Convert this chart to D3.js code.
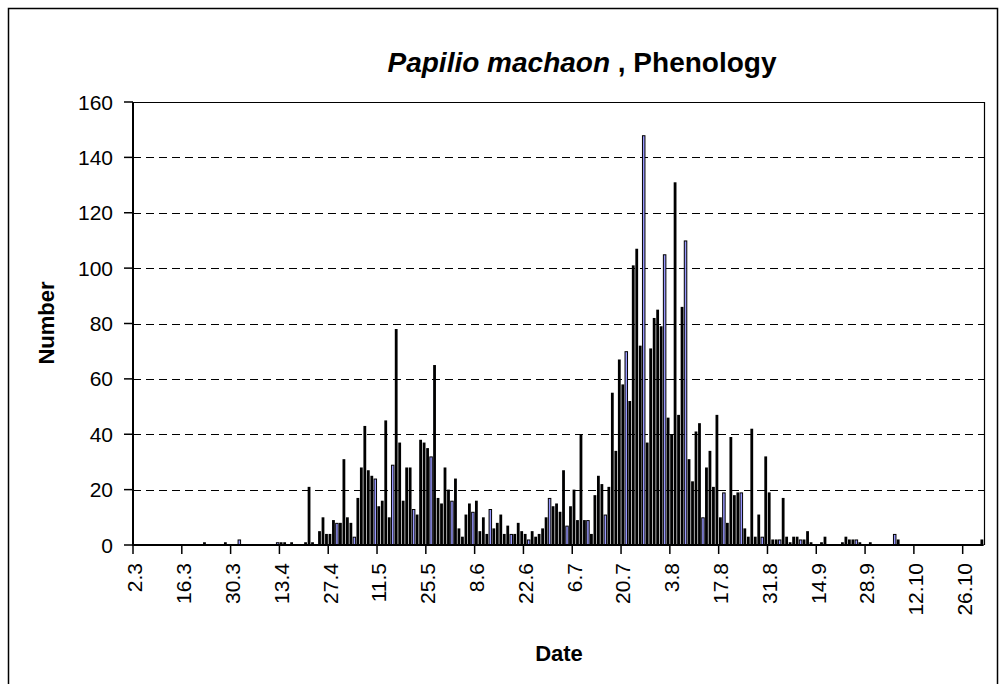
<!DOCTYPE html>
<html>
<head>
<meta charset="utf-8">
<script src="https://cdn.jsdelivr.net/npm/d3@7"></script>
<style>
  html, body { margin: 0; padding: 0; background: #fff; }
  svg { display: block; font-family: Arial, "Liberation Sans", sans-serif; }
</style>
</head>
<body>
<svg id="chart" width="1005" height="684"></svg>
<script>
// ---- data (daily counts, starting 2 March) ----
const tickLabels = ["2.3","16.3","30.3","13.4","27.4","11.5","25.5","8.6","22.6","6.7",
                    "20.7","3.8","17.8","31.8","14.9","28.9","12.10","26.10"];
const tickEvery = 14;
const yTicks = [0,20,40,60,80,100,120,140,160];
const counts = [
  0,0,0,0,0,0,0,0,0,0,0,0,0,0,
  0,0,0,0,0,0,1,0,0,0,0,0,1,0,
  0,0,2,0,0,0,0,0,0,0,0,0,0,1,
  1,1,0,1,0,0,0,1,21,1,0,5,10,4,
  4,9,8,8,31,10,8,3,17,28,43,27,25,24,
  14,16,45,10,29,78,37,16,28,28,13,11,38,37,
  35,32,65,17,15,28,20,16,24,6,3,11,15,12,
  16,5,10,4,13,6,8,11,4,7,4,4,8,5,
  4,2,5,3,4,6,10,17,14,15,12,27,7,14,
  20,9,40,9,9,4,18,25,22,11,21,55,34,67,
  58,70,52,101,107,72,148,37,71,82,85,79,105,46,
  40,131,47,86,110,31,23,41,44,10,28,34,21,47,
  10,19,8,39,18,19,19,6,3,42,3,11,3,32,
  19,2,2,2,17,3,1,3,3,2,2,5,1,0,
  0,1,3,0,0,0,0,1,3,2,2,2,1,0,
  0,1,0,0,0,0,0,0,4,2,0,0,0,0,
  0,0,0,0,0,0,0,0,0,0,0,0,0,0,
  0,0,0,0,0,2
];
const title1 = "Papilio machaon";
const title2 = " , Phenology";
const xTitle = "Date";
const yTitle = "Number";

// ---- layout ----
const svg = d3.select("#chart");
const L = 133, R = 983.6, T = 102, B = 545;

const x = d3.scaleBand().domain(d3.range(counts.length)).range([L, R]).padding(0);
const y = d3.scaleLinear().domain([0, 160]).range([B, T]);
const bw = x.bandwidth();

// emulate the coarse raster of the original: bars that straddle an extra
// device pixel show their lavender fill, the rest render as solid black
const devPerCat = 2.18045, devOffset = -0.015;
function showsFill(i) {
  const l = i * devPerCat + devOffset;
  return Math.round(l + devPerCat) - Math.round(l) >= 3;
}

// outer border
svg.append("rect").attr("x", 8.5).attr("y", 8.5).attr("width", 989).attr("height", 690)
  .attr("fill", "none").attr("stroke", "#000").attr("stroke-width", 1.5);

// gridlines
svg.append("g").selectAll("line").data(yTicks.filter(d => d > 0 && d < 160)).join("line")
  .attr("x1", L).attr("x2", R)
  .attr("y1", d => Math.round(y(d)) + 0.5).attr("y2", d => Math.round(y(d)) + 0.5)
  .attr("stroke", "#000").attr("stroke-width", 1).attr("stroke-dasharray", "8,5")
  .attr("shape-rendering", "crispEdges");

// plot border top/right
svg.append("path")
  .attr("d", `M${L},${Math.round(T)+0.5}H${Math.round(R)+0.5}V${B}`)
  .attr("fill", "none").attr("stroke", "#000").attr("stroke-width", 1.2);

// bars
svg.append("g").selectAll("rect").data(counts.map((v, i) => ({v, i})).filter(d => d.v > 0)).join("rect")
  .each(function(d) {
    const fillVis = showsFill(d.i);
    const outer = fillVis ? 3.5 : 2.8;
    const sw = fillVis ? 1.0 : 1.45;
    const c = x(d.i) + bw / 2;
    const top = y(d.v);
    d3.select(this)
      .attr("x", c - outer / 2 + sw / 2).attr("width", outer - sw)
      .attr("y", top + sw / 2).attr("height", Math.max(0, B - top - sw / 2))
      .attr("stroke-width", sw);
  })
  .attr("fill", "#9999FF").attr("stroke", "#000");

// y axis
const yAxis = svg.append("g");
yAxis.append("line").attr("x1", L).attr("x2", L).attr("y1", T).attr("y2", B + 1)
  .attr("stroke", "#000").attr("stroke-width", 2);
yAxis.selectAll("line.t").data(yTicks).join("line").attr("class", "t")
  .attr("x1", L - 9).attr("x2", L).attr("y1", d => y(d)).attr("y2", d => y(d))
  .attr("stroke", "#000").attr("stroke-width", 1.5);
yAxis.selectAll("text").data(yTicks).join("text")
  .attr("x", 113).attr("y", d => y(d)).attr("dy", "0.36em")
  .attr("text-anchor", "end").attr("font-size", 21).text(d => d);

// x axis
const xAxis = svg.append("g");
xAxis.append("line").attr("x1", L - 1).attr("x2", R).attr("y1", B).attr("y2", B)
  .attr("stroke", "#000").attr("stroke-width", 2);
const tickIdx = tickLabels.map((t, k) => k * tickEvery);
xAxis.selectAll("line.t").data(tickIdx).join("line").attr("class", "t")
  .attr("x1", d => x(d)).attr("x2", d => x(d)).attr("y1", B).attr("y2", B + 9)
  .attr("stroke", "#000").attr("stroke-width", 1.5);
xAxis.selectAll("text").data(tickLabels).join("text")
  .attr("transform", (t, k) => `translate(${x(k * tickEvery) + bw / 2},563) rotate(-90)`)
  .attr("dy", "0.36em").attr("text-anchor", "end").attr("font-size", 21).text(t => t);

// titles
const tt = svg.append("text").attr("x", 582).attr("y", 72).attr("text-anchor", "middle")
  .attr("font-size", 28).attr("font-weight", "bold");
tt.append("tspan").attr("font-style", "italic").text(title1);
tt.append("tspan").text(title2);

svg.append("text").attr("x", 559).attr("y", 661).attr("text-anchor", "middle")
  .attr("font-size", 22).attr("font-weight", "bold").text(xTitle);
svg.append("text").attr("transform", "translate(54,323) rotate(-90)").attr("text-anchor", "middle")
  .attr("font-size", 22).attr("font-weight", "bold").text(yTitle);
</script>
</body>
</html>
